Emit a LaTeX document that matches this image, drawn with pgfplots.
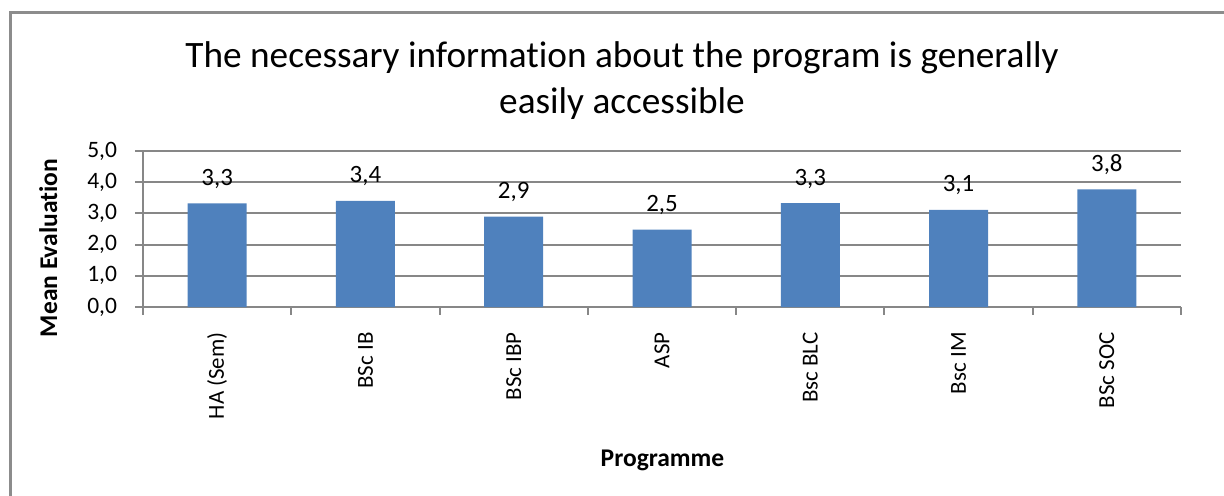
\documentclass[border=0pt]{standalone}
\usepackage{fontspec}
\setmainfont{Carlito}[Ligatures=NoCommon]
\usepackage{pgfplots}
\pgfplotsset{compat=1.18}
\definecolor{barblue}{HTML}{4F81BD}
\definecolor{gridgray}{HTML}{878787}
\definecolor{framegray}{HTML}{8C8C8C}
\begin{document}
\begin{tikzpicture}
\path[use as bounding box] (0,0) rectangle (612bp,-248bp);
\draw[color=framegray, line width=1.2bp] (5.2bp,-250bp) -- (5.2bp,-6.3bp) -- (614bp,-6.3bp);
\node[anchor=base, font=\fontsize{18.7}{22}\selectfont] at (311bp,-33.85bp) {The necessary information about the program is generally};
\node[anchor=base, font=\fontsize{18.7}{22}\selectfont] at (311bp,-56.5bp) {easily accessible};
\node[anchor=base, rotate=90, font=\fontsize{12.8}{14}\selectfont\bfseries] at (28.5bp,-124bp) {Mean Evaluation};
\node[anchor=base, font=\fontsize{12.8}{14}\selectfont\bfseries] at (331.25bp,-233.3bp) {Programme};
\begin{axis}[
  at={(71.5bp,-153.5bp)}, anchor=south west,
  width=519bp, height=78bp, scale only axis,
  ymin=0, ymax=5, ytick={0,1,2,3,4,5},
  xmin=-0.5, xmax=6.5,
  xtick={-0.5,0.5,1.5,2.5,3.5,4.5,5.5,6.5}, xticklabels={},
  extra x ticks={0,1,2,3,4,5,6},
  extra x tick labels={HA (Sem),BSc IB,BSc IBP,ASP,Bsc BLC,Bsc IM,BSc SOC},
  extra x tick style={major tick length=0pt, grid=none,
     tick label style={rotate=90, anchor=east, inner sep=0pt, font=\fontsize{11.5}{13}\selectfont}},
  xticklabel shift=12.5bp,
  axis x line*=bottom, axis y line*=left,
  axis line style={gridgray, line width=1bp},
  tick style={gridgray, line width=1bp},
  tick align=outside,
  major tick length=3.8bp,
  ymajorgrids, grid style={gridgray, line width=1bp},
  yticklabel style={inner sep=0pt, font=\fontsize{11.8}{13}\selectfont},
  yticklabel shift=9bp,
  /pgf/number format/.cd, use comma, fixed, fixed zerofill, precision=1, assume math mode=true,
  /pgfplots/.cd,
  ybar, bar width=29.5bp,
  nodes near coords,
  every node near coord/.append style={anchor=base, inner sep=0pt, yshift=9bp, font=\fontsize{12.5}{14}\selectfont, text=black},
  clip=false,
]
\addplot[fill=barblue, draw=none] coordinates {(0,3.32) (1,3.40) (2,2.90) (3,2.48) (4,3.33) (5,3.11) (6,3.77)};
\end{axis}
\end{tikzpicture}
\end{document}
